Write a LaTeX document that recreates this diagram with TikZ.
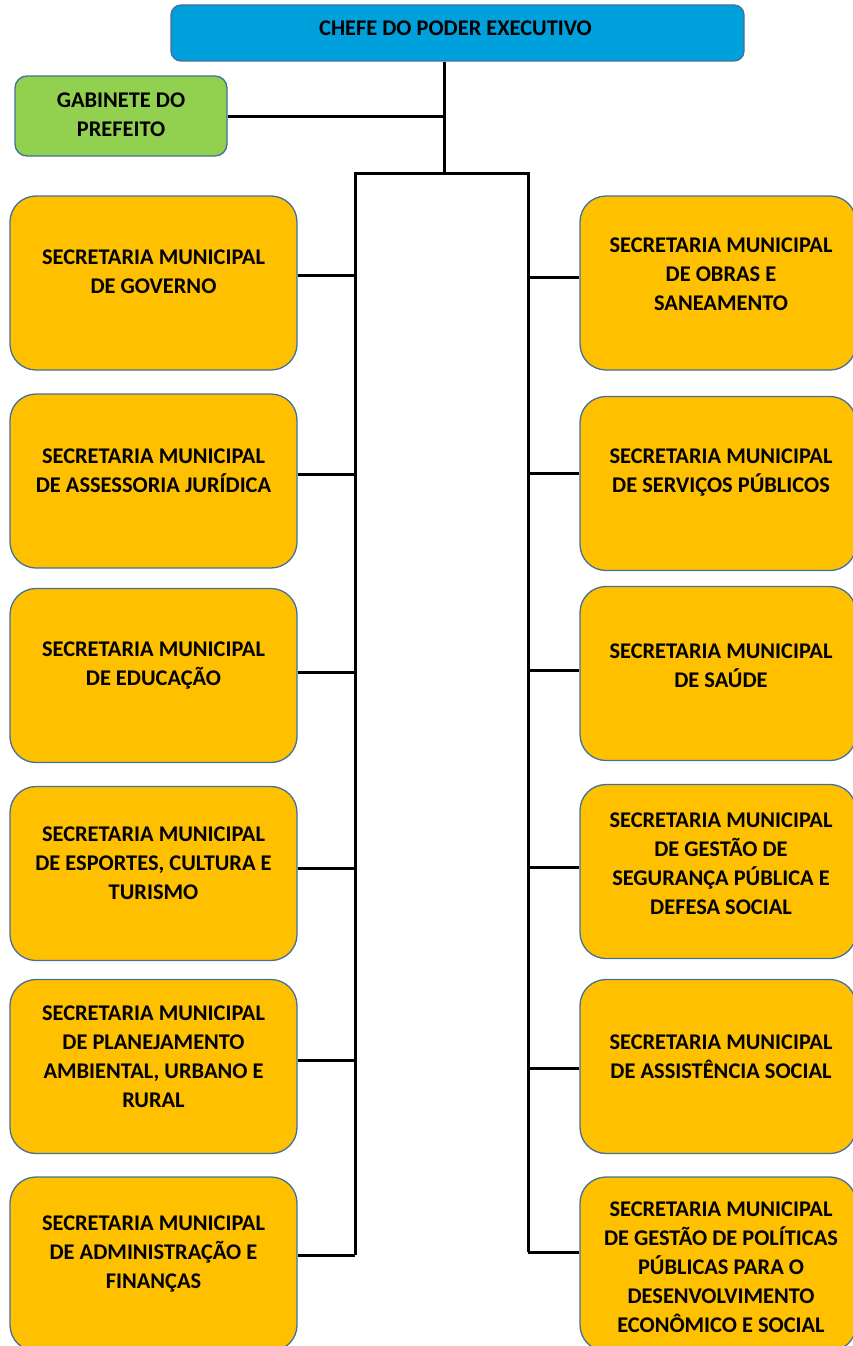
\documentclass[tikz,border=0pt]{standalone}
\usepackage{fontspec}
\setmainfont{Carlito}
\definecolor{ybox}{RGB}{255,192,0}
\definecolor{gbox}{RGB}{146,208,80}
\definecolor{bbox}{RGB}{0,160,220}
\definecolor{edge}{RGB}{65,113,156}
\tikzset{
  basebox/.style={draw=edge, line width=1.3pt, inner sep=0pt},
  secbox/.style={basebox, fill=ybox, rounded corners=26pt, minimum height=174pt},
  lbox/.style={secbox, minimum width=287pt},
  rbox/.style={secbox, minimum width=276pt},
  lbl/.style={align=center, font=\fontsize{22.4}{29}\selectfont\bfseries, text=black, inner sep=0pt},
  conn/.style={draw=black, line width=3pt},
}
\begin{document}
\begin{tikzpicture}[x=1pt,y=-1pt]
\clip (0,0) rectangle (853,1346);
\fill[white] (0,0) rectangle (853,1346);

% top and cabinet
\node[basebox, fill=bbox, rounded corners=10pt, minimum width=573pt, minimum height=56pt,
  label={[lbl, xshift=-2pt, yshift=5pt]center:CHEFE DO PODER EXECUTIVO}] (top) at (457.5,33) {};
\node[basebox, fill=gbox, rounded corners=12pt, minimum width=212pt, minimum height=80pt,
  label={[lbl, yshift=1pt]center:GABINETE DO\\PREFEITO}] (gab) at (121,116) {};

% left column
\node[lbox, label={[lbl, yshift=11pt]center:SECRETARIA MUNICIPAL\\DE GOVERNO}] (L1) at (153.5,283) {};
\node[lbox, label={[lbl, yshift=10pt]center:SECRETARIA MUNICIPAL\\DE ASSESSORIA JURÍDICA}] (L2) at (153.5,481) {};
\node[lbox, label={[lbl, yshift=10pt]center:SECRETARIA MUNICIPAL\\DE EDUCAÇÃO}] (L3) at (153.5,675.5) {};
\node[lbox, label={[lbl, yshift=10pt]center:SECRETARIA MUNICIPAL\\DE ESPORTES, CULTURA E\\TURISMO}] (L4) at (153.5,873.5) {};
\node[lbox, label={[lbl, yshift=10pt]center:SECRETARIA MUNICIPAL\\DE PLANEJAMENTO\\AMBIENTAL, URBANO E\\RURAL}] (L5) at (153.5,1066.5) {};
\node[lbox, label={[lbl, yshift=10pt]center:SECRETARIA MUNICIPAL\\DE ADMINISTRAÇÃO E\\FINANÇAS}] (L6) at (153.5,1264) {};

% right column
\node[rbox, label={[lbl, xshift=3pt, yshift=9pt]center:SECRETARIA MUNICIPAL\\DE OBRAS E\\SANEAMENTO}] (R1) at (718,283) {};
\node[rbox, label={[lbl, xshift=3pt, yshift=11pt]center:SECRETARIA MUNICIPAL\\DE SERVIÇOS PÚBLICOS}] (R2) at (718,483.5) {};
\node[rbox, label={[lbl, xshift=3pt, yshift=8pt]center:SECRETARIA MUNICIPAL\\DE SAÚDE}] (R3) at (718,673.5) {};
\node[rbox, label={[lbl, xshift=3pt, yshift=8pt]center:SECRETARIA MUNICIPAL\\DE GESTÃO DE\\SEGURANÇA PÚBLICA E\\DEFESA SOCIAL}] (R4) at (718,871.5) {};
\node[rbox, label={[lbl, xshift=3pt, yshift=10pt]center:SECRETARIA MUNICIPAL\\DE ASSISTÊNCIA SOCIAL}] (R5) at (718,1066.5) {};
\node[rbox, label={[lbl, xshift=3pt, yshift=-3pt]center:SECRETARIA MUNICIPAL\\DE GESTÃO DE POLÍTICAS\\PÚBLICAS PARA O\\DESENVOLVIMENTO\\ECONÔMICO E SOCIAL}] (R6) at (718,1264) {};

% junction coordinates
\coordinate (J) at (444,173);
\coordinate (LT) at (355,173);
\coordinate (RT) at (528,173);
\coordinate (LB) at (355,1255);
\coordinate (RB) at (528,1252);

% connectors
\draw[conn] (top.south -| J) -- (J);
\draw[conn] (gab.east) -- (gab.east -| J);
\draw[conn, line join=miter] (LB) -- (LT) -- (RT) -- (RB);

\draw[conn] ([yshift=8pt]L1.east) -- ([yshift=8pt]L1.east -| LT);
\draw[conn] ([yshift=7pt]L2.east) -- ([yshift=7pt]L2.east -| LT);
\draw[conn] ([yshift=3.5pt]L3.east) -- ([yshift=3.5pt]L3.east -| LT);
\draw[conn] ([yshift=5.5pt]L4.east) -- ([yshift=5.5pt]L4.east -| LT);
\draw[conn] ([yshift=6.5pt]L5.east) -- ([yshift=6.5pt]L5.east -| LT);
\draw[conn] ([yshift=9pt]L6.east) -- (LB);

\draw[conn] ([yshift=6pt]R1.west) -- ([yshift=6pt]R1.west -| RT);
\draw[conn] ([yshift=10.5pt]R2.west) -- ([yshift=10.5pt]R2.west -| RT);
\draw[conn] ([yshift=3.5pt]R3.west) -- ([yshift=3.5pt]R3.west -| RT);
\draw[conn] ([yshift=4.5pt]R4.west) -- ([yshift=4.5pt]R4.west -| RT);
\draw[conn] ([yshift=-1.5pt]R5.west) -- ([yshift=-1.5pt]R5.west -| RT);
\draw[conn] ([yshift=12pt]R6.west) -- (RB);
\end{tikzpicture}
\end{document}
